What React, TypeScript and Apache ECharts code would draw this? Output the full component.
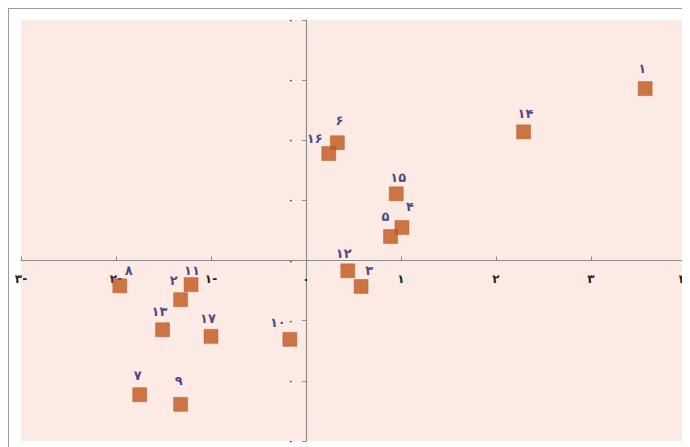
import React, { useEffect, useRef } from "react";
import * as echarts from "echarts";

const pointLabels = ["۱", "۱۴", "۶", "۱۶", "۱۵", "۴", "۵", "۱۲", "۳", "۸", "۱۱", "۲", "۱۳", "۱۷", "۱۰", "۷", "۹"];
const xValues = [3.57, 2.29, 0.33, 0.24, 0.95, 1.01, 0.89, 0.44, 0.58, -1.96, -1.21, -1.32, -1.51, -1.0, -0.17, -1.75, -1.32];
const yValues = [2.86, 2.14, 1.96, 1.78, 1.11, 0.55, 0.4, -0.17, -0.43, -0.42, -0.4, -0.65, -1.15, -1.26, -1.31, -2.23, -2.39];

const xMin = -3;
const xMax = 4;
const yMin = -3;
const yMax = 4;
const xTickLabels: Record<string, string> = {
  "-3": "۳-",
  "-2": "۲-",
  "-1": "۱-",
  "0": "۰",
  "1": "۱",
  "2": "۲",
  "3": "۳",
  "4": "۴",
};
const yTickLabel = "۰";

// label placement (style only), keyed by point label
const labelOffsets: Record<string, [number, number]> = {
  "۱": [-3, -20],
  "۱۴": [2, -18],
  "۶": [2, -22],
  "۱۶": [-14, -15],
  "۱۵": [2, -16],
  "۴": [8, -21],
  "۵": [-5, -20],
  "۱۲": [-4, -17],
  "۳": [8, -16],
  "۸": [9, -15],
  "۱۱": [1, -14],
  "۲": [-7, -19],
  "۱۳": [-3, -18],
  "۱۷": [-3, -18],
  "۱۰": [-12, -17],
  "۷": [-2, -19],
  "۹": [-2, -24],
};

const W = 681;
const H = 438;
const G = { left: 12, right: 4, top: 11, bottom: 6 };

export default function App() {
  const ref = useRef<HTMLDivElement>(null);
  useEffect(() => {
    if (!ref.current) return;
    const chart = echarts.init(ref.current, undefined, { renderer: "svg" });
    const gw = W - G.left - G.right;
    const gh = H - G.top - G.bottom;
    const xOff = -((0 - xMin) / (xMax - xMin)) * gw;
    const yOff = -((0 - yMin) / (yMax - yMin)) * gh;
    const data = pointLabels.map((name, i) => ({
      name,
      value: [xValues[i], yValues[i]],
      label: {
        show: true,
        position: "inside",
        offset: labelOffsets[name] || [0, -18],
        formatter: name,
        color: "#1c1c70",
        fontWeight: "bold",
        fontSize: 13,
        fontFamily: "DejaVu Sans, Noto Sans, sans-serif",
      },
    }));
    chart.setOption({
      animation: false,
      backgroundColor: "#ffffff",
      grid: {
        left: G.left,
        right: G.right,
        top: G.top,
        bottom: G.bottom,
        containLabel: false,
        outerBoundsMode: "none",
        show: true,
        backgroundColor: "#fcebe5",
        borderWidth: 0,
      },
      xAxis: {
        type: "value",
        position: "bottom",
        offset: yOff,
        min: xMin,
        max: xMax,
        interval: 1,
        splitLine: { show: false },
        axisLine: { onZero: false, lineStyle: { color: "#8c8c8c", width: 1.2 } },
        axisTick: { show: true, inside: true, length: 4, lineStyle: { color: "#8c8c8c" } },
        axisLabel: {
          show: true,
          margin: 12,
          color: "#222222",
          fontSize: 12,
          fontWeight: "bold",
          fontFamily: "DejaVu Sans, sans-serif",
          showMinLabel: true,
          showMaxLabel: true,
          hideOverlap: false,
          alignMaxLabel: "right",
          formatter: (v: number) => xTickLabels[String(v)] ?? "",
        },
      },
      yAxis: {
        type: "value",
        position: "left",
        offset: xOff,
        min: yMin,
        max: yMax,
        interval: 1,
        splitLine: { show: false },
        axisLine: { onZero: false, lineStyle: { color: "#8c8c8c", width: 1.2 } },
        axisTick: { show: true, inside: false, length: 4, lineStyle: { color: "#8c8c8c" } },
        axisLabel: {
          show: true,
          margin: 12,
          color: "#222222",
          fontSize: 12,
          fontFamily: "DejaVu Sans, sans-serif",
          showMinLabel: true,
          showMaxLabel: true,
          hideOverlap: false,
          formatter: () => yTickLabel,
        },
      },
      series: [
        {
          type: "scatter",
          symbol: "rect",
          symbolSize: 14,
          itemStyle: { color: "#c0561c", borderColor: "#ad4c15", borderWidth: 0.5 },
          data,
        },
      ],
    });
    return () => chart.dispose();
  }, []);
  return (
    <div
      style={{
        width: 682,
        height: 439,
        boxSizing: "border-box",
        borderTop: "1px solid #9a9a9a",
        borderLeft: "1px solid #9a9a9a",
        background: "#ffffff",
      }}
    >
      <div ref={ref} style={{ width: W, height: H }} />
    </div>
  );
}
